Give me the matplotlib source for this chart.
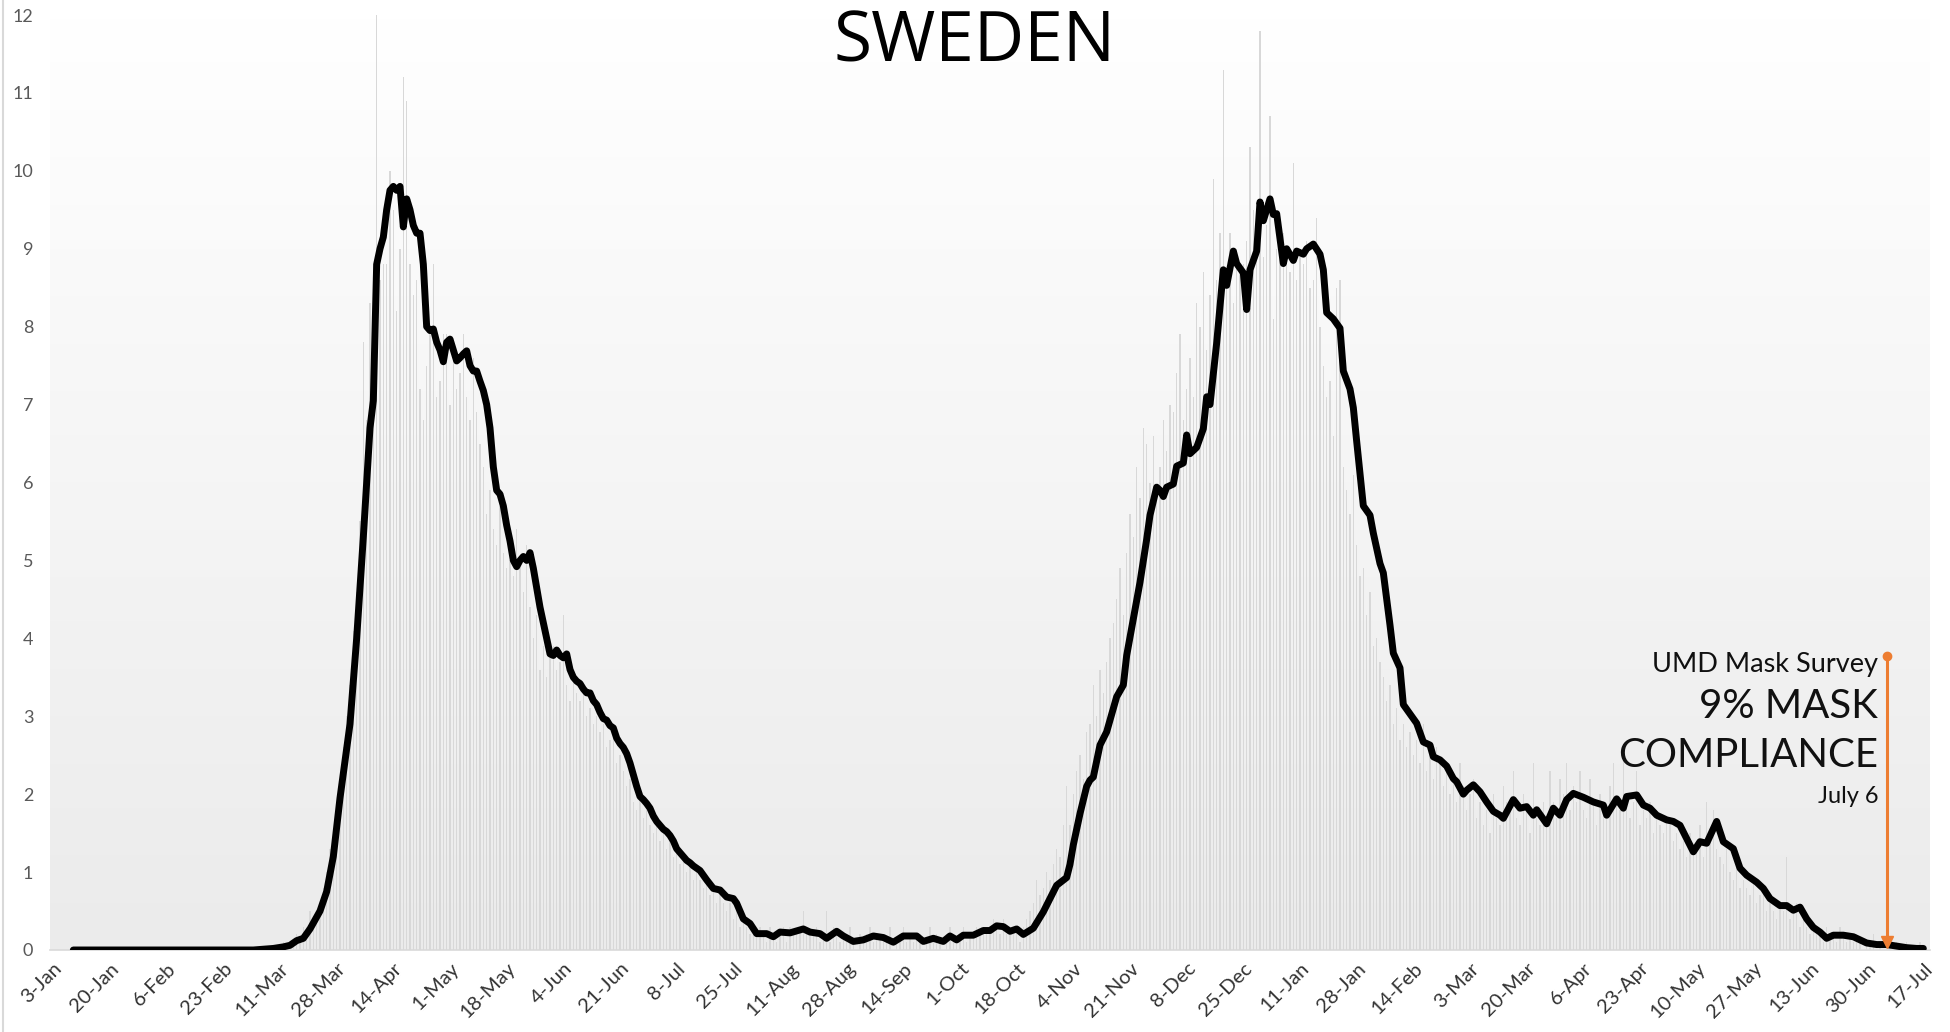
import numpy as np
import matplotlib.pyplot as plt
from matplotlib.lines import Line2D
from matplotlib.colors import LinearSegmentedColormap

# daily deaths per million, one value per day starting 3-Jan-2020
daily_deaths = [0.0] * 68 + [
    0.0, 0.1, 0.0, 0.1, 0.1, 0.2, 0.1, 0.3, 0.3, 0.5,
    0.3, 0.5, 0.6, 0.8, 1.0, 1.3, 1.4, 1.8, 2.2, 2.6,
    3.0, 3.4, 4.1, 4.6, 5.5, 7.8, 6.8, 8.3, 8.8, 12.0,
    8.6, 8.8, 8.8, 10.0, 9.5, 8.2, 9.0, 11.2, 10.9, 8.8,
    8.4, 8.6, 7.2, 6.8, 7.5, 7.9, 8.8, 7.1, 7.3, 7.9,
    7.9, 7.0, 7.6, 7.2, 7.4, 7.9, 7.1, 6.8, 7.6, 6.9,
    6.5, 6.2, 5.6, 5.9, 5.4, 5.2, 5.7, 5.1, 4.9, 5.0,
    4.8, 5.4, 5.0, 4.6, 5.2, 4.4, 4.0, 4.3, 3.6, 3.9,
    3.5, 3.8, 3.9, 3.6, 3.7, 4.3, 3.4, 3.2, 3.5, 3.3,
    3.2, 3.4, 3.0, 3.1, 2.9, 3.0, 2.8, 2.9, 2.6, 2.7,
    2.8, 2.4, 2.5, 2.3, 2.1, 2.2, 1.9, 1.8, 2.0, 1.7,
    1.8, 1.6, 1.5, 1.7, 1.4, 1.5, 1.3, 1.4, 1.2, 1.3,
    1.1, 1.2, 1.0, 1.1, 0.9, 1.0, 0.9, 0.8, 0.9, 0.7,
    0.8, 0.6, 0.7, 0.6, 0.5, 0.6, 0.4, 0.5, 0.3, 0.4,
    0.3, 0.2, 0.3, 0.2, 0.3, 0.2, 0.1, 0.3, 0.2, 0.1,
    0.2, 0.3, 0.1, 0.3, 0.2, 0.2, 0.3, 0.5, 0.2, 0.2,
    0.2, 0.3, 0.1, 0.2, 0.5, 0.1, 0.3, 0.2, 0.1, 0.2,
    0.1, 0.3, 0.1, 0.0, 0.2, 0.1, 0.2, 0.3, 0.1, 0.2,
    0.2, 0.1, 0.1, 0.3, 0.0, 0.1, 0.2, 0.3, 0.1, 0.2,
    0.1, 0.2, 0.2, 0.0, 0.1, 0.3, 0.1, 0.2, 0.1, 0.0,
    0.2, 0.3, 0.1, 0.1, 0.2, 0.3, 0.1, 0.2, 0.2, 0.3,
    0.2, 0.3, 0.3, 0.2, 0.4, 0.3, 0.2, 0.4, 0.2, 0.3,
    0.2, 0.3, 0.1, 0.3, 0.4, 0.5, 0.6, 0.9, 0.7, 0.8,
    1.0, 0.9, 1.1, 1.3, 1.2, 1.6, 2.1, 1.6, 2.0, 2.3,
    2.5, 2.2, 2.8, 2.9, 3.4, 3.0, 3.6, 3.3, 3.7, 4.0,
    4.2, 4.5, 4.9, 4.3, 5.1, 5.6, 5.3, 6.2, 5.8, 6.7,
    6.5, 6.0, 6.6, 5.9, 6.2, 6.8, 6.4, 7.0, 6.9, 7.4,
    7.9, 6.8, 7.2, 7.6, 7.1, 8.3, 8.0, 8.7, 7.7, 8.4,
    9.9, 8.6, 9.2, 11.3, 8.5, 9.2, 8.3, 9.0, 8.7, 8.8,
    9.1, 10.3, 9.5, 9.4, 11.8, 8.9, 9.3, 10.7, 8.1, 9.0,
    8.9, 9.2, 8.8, 8.7, 10.1, 8.6, 9.0, 8.8, 9.1, 8.5,
    8.6, 9.4, 8.0, 7.5, 7.1, 7.3, 6.6, 8.5, 8.6, 6.2,
    5.9, 5.6, 6.1, 5.2, 4.8, 4.9, 4.3, 4.6, 3.9, 4.0,
    3.7, 3.5, 3.2, 3.4, 2.9, 3.1, 2.7, 2.9, 2.6, 2.8,
    2.5, 2.7, 2.4, 2.9, 2.3, 2.5, 2.2, 2.6, 2.4, 2.1,
    2.3, 2.0, 2.2, 1.9, 2.4, 2.1, 1.8, 2.0, 2.2, 1.7,
    1.9, 1.6, 1.8, 1.5, 2.0, 1.7, 1.6, 2.1, 1.9, 1.8,
    2.3, 1.7, 1.6, 2.0, 1.8, 1.5, 2.4, 1.7, 1.6, 1.9,
    1.6, 2.3, 1.9, 1.7, 2.2, 2.0, 2.4, 1.8, 2.1, 1.9,
    2.3, 1.8, 1.7, 2.2, 1.9, 1.6, 2.0, 1.8, 1.7, 2.1,
    2.4, 1.9, 1.8, 2.5, 2.0, 1.7, 1.9, 2.3, 1.6, 1.8,
    1.7, 1.9, 1.5, 1.8, 1.6, 1.5, 1.7, 1.6, 1.4, 1.5,
    1.3, 1.4, 1.2, 1.5, 1.3, 1.4, 1.6, 1.2, 1.9, 1.4,
    1.8, 1.3, 1.2, 1.1, 1.3, 1.0, 0.9, 1.1, 0.8, 0.9,
    0.8, 0.7, 0.9, 0.6, 0.7, 0.8, 0.5, 0.6, 0.5, 0.4,
    0.6, 0.5, 1.2, 0.4, 0.5, 0.6, 0.3, 0.4, 0.3, 0.2,
    0.3, 0.2, 0.2, 0.1, 0.3, 0.2, 0.2, 0.1, 0.3, 0.2,
    0.1, 0.2, 0.1, 0.2, 0.1, 0.0, 0.1, 0.1, 0.2, 0.0,
    0.1, 0.0, 0.1, 0.1, 0.0, 0.1, 0.0, 0.0, 0.1, 0.0,
    0.0, 0.0, 0.1, 0.0,
]

# 7-day average (black line): day index from 3-Jan-2020, value
avg_day = [6, 40, 60, 66, 69, 71, 73, 75, 77, 80, 82, 84, 86, 89, 91, 93, 95, 96,
           97, 98, 99, 100, 101, 102, 103, 104, 105, 106, 107, 108, 109, 110, 111,
           112, 113, 114, 115, 116, 117, 118, 119, 120, 121, 122, 123, 124, 125,
           126, 127, 128, 129, 130, 131, 132, 133, 134, 135, 136, 137, 138, 139,
           140, 141, 142, 143, 144, 145, 146, 147, 148, 149, 150, 151, 152, 153,
           154, 155, 156, 157, 158, 159, 160, 161, 162, 163, 164, 165, 166, 167,
           168, 169, 170, 171, 172, 173, 174, 175, 176, 177, 178, 179, 180, 181,
           182, 183, 184, 185, 186, 187, 188, 189, 190, 191, 192, 193, 194, 196,
           198, 200, 202, 204, 205, 207, 209, 211, 214, 216, 218, 221, 225, 227,
           230, 232, 235, 237, 240, 243, 246, 249, 252, 255, 259, 261, 264, 267,
           269, 271, 273, 276, 279, 281, 283, 285, 287, 289, 291, 294, 297, 299,
           301, 304, 305, 306, 308, 310, 311, 312, 314, 316, 318, 319, 321, 322,
           324, 326, 328, 329, 331, 332, 333, 334, 336, 337, 339, 340, 341, 343,
           345, 346, 347, 349, 351, 352, 354, 355, 357, 358, 359, 361, 362, 363,
           365, 366, 367, 369, 370, 372, 373, 375, 376, 378, 380, 381, 382, 384,
           386, 387, 389, 390, 391, 393, 395, 396, 398, 399, 401, 402, 404, 405,
           407, 409, 411, 413, 414, 416, 418, 420, 421, 423, 424, 426, 428, 430,
           432, 434, 435, 438, 440, 442, 444, 445, 448, 450, 452, 454, 456, 459,
           462, 465, 466, 469, 471, 472, 475, 477, 479, 481, 484, 486, 488, 490,
           492, 494, 496, 499, 501, 504, 506, 508, 511, 513, 515, 518, 520, 522,
           524, 526, 528, 530, 532, 534, 537, 540, 542, 544, 547, 550, 553, 556,
           559, 561]
avg_val = [0.0, 0.0, 0.0, 0.02, 0.04, 0.06, 0.12, 0.15, 0.27, 0.5, 0.75, 1.2, 1.95,
           2.9, 4.0, 5.3, 6.7, 7.05,
           8.8, 9.0, 9.15, 9.5, 9.75, 9.8, 9.75, 9.8, 9.28, 9.64, 9.5, 9.3, 9.2, 9.2,
           8.8, 8.0, 7.95, 7.97, 7.8, 7.7, 7.55, 7.8, 7.84, 7.7, 7.56, 7.6, 7.65,
           7.69, 7.5, 7.43, 7.43, 7.3, 7.18, 7.0, 6.7, 6.2, 5.9, 5.85, 5.7, 5.45,
           5.25, 5.0, 4.92, 5.0, 5.05, 5.0, 5.1, 4.9, 4.65, 4.4, 4.2, 4.0, 3.8,
           3.78, 3.85, 3.78, 3.75, 3.8, 3.6, 3.5, 3.45, 3.42, 3.35, 3.3, 3.3, 3.2,
           3.15, 3.05, 2.97, 2.95, 2.88, 2.85, 2.72, 2.65, 2.6, 2.52, 2.4, 2.25,
           2.1, 1.97, 1.93, 1.88, 1.82, 1.72, 1.65, 1.6, 1.55, 1.52, 1.47, 1.4,
           1.3, 1.25, 1.2, 1.15, 1.12, 1.08, 1.05, 1.02, 0.9,
           0.79, 0.77, 0.68, 0.66, 0.6, 0.4, 0.34, 0.21, 0.21, 0.17, 0.23, 0.22,
           0.27, 0.23, 0.21, 0.15, 0.24, 0.18, 0.11, 0.13, 0.18, 0.16, 0.1, 0.18,
           0.18, 0.11, 0.15, 0.11, 0.18, 0.13, 0.19, 0.19, 0.25, 0.25, 0.31, 0.3,
           0.24, 0.27, 0.2, 0.28, 0.49, 0.66, 0.83, 0.93, 1.1, 1.35, 1.75, 2.1,
           2.18, 2.22, 2.63, 2.8, 3.1, 3.25, 3.4, 3.78, 4.25, 4.72, 5.27, 5.58,
           5.94, 5.9, 5.82, 5.94, 5.98, 6.21, 6.25, 6.61, 6.37, 6.45, 6.69, 7.1,
           7.0, 7.79, 8.73, 8.53, 8.97, 8.81, 8.69, 8.22, 8.73, 8.97, 9.6, 9.36,
           9.64, 9.44, 9.45, 8.81, 9.0, 8.85, 8.97, 8.93, 9.0, 9.06, 8.93, 8.73,
           8.18, 8.1, 7.98, 7.43, 7.2, 6.96, 6.53, 5.7, 5.58, 5.35, 4.96, 4.84,
           4.17, 3.81, 3.62, 3.15, 3.03, 2.91, 2.67, 2.63, 2.48, 2.44, 2.36, 2.2,
           2.16, 2.0, 2.05, 2.12, 2.03, 1.9, 1.78, 1.73, 1.69, 1.93, 1.82, 1.84,
           1.73, 1.8, 1.62, 1.82, 1.73, 1.93, 2.01, 1.96, 1.9, 1.86, 1.73, 1.94,
           1.82, 1.97, 1.99, 1.86, 1.82, 1.73, 1.67, 1.65, 1.6, 1.43, 1.26, 1.39,
           1.37, 1.65, 1.39, 1.3, 1.05, 0.96, 0.87, 0.79, 0.66, 0.57, 0.57, 0.51,
           0.55, 0.4, 0.29, 0.23, 0.15, 0.19, 0.19, 0.17, 0.13, 0.09, 0.07, 0.07,
           0.05, 0.03, 0.02, 0.02]

tick_labels = ["3-Jan", "20-Jan", "6-Feb", "23-Feb", "11-Mar", "28-Mar", "14-Apr",
               "1-May", "18-May", "4-Jun", "21-Jun", "8-Jul", "25-Jul", "11-Aug",
               "28-Aug", "14-Sep", "1-Oct", "18-Oct", "4-Nov", "21-Nov", "8-Dec",
               "25-Dec", "11-Jan", "28-Jan", "14-Feb", "3-Mar", "20-Mar", "6-Apr",
               "23-Apr", "10-May", "27-May", "13-Jun", "30-Jun", "17-Jul"]
tick_step = 17

survey_day = 550  # 6-Jul-2021
survey_lines = ["UMD Mask Survey", "9% MASK", "COMPLIANCE", "July 6"]

W, H = 1950, 1032
fig = plt.figure(figsize=(W / 100, H / 100), dpi=100)
fig.patch.set_facecolor("white")
ax = fig.add_axes([50 / W, 82 / H, 1880 / W, 935 / H])

# background gradient white -> light grey
bg = LinearSegmentedColormap.from_list("bg", ["#ffffff", "#ebebeb"])
ax.imshow(np.linspace(0, 1, 256).reshape(-1, 1), cmap=bg, extent=[-1, 563, 0, 12],
          aspect="auto", origin="upper", zorder=0)

days = np.arange(len(daily_deaths))
ax.bar(days, daily_deaths, width=0.38, color="#d8d8d8", zorder=1)
ax.plot(avg_day, avg_val, color="black", lw=5, solid_joinstyle="round",
        solid_capstyle="round", zorder=3)

# survey marker
orange = "#ed7d31"
ax.plot([survey_day, survey_day], [0.08, 3.77], color=orange, lw=2.2, zorder=4)
ax.plot(survey_day, 3.77, "o", ms=6, color=orange, zorder=4)
ax.plot(survey_day, 0.1, "v", ms=8, color=orange, zorder=4)

fonts = ["Lato", "DejaVu Sans"]
ax.text(547.5, 3.67, survey_lines[0], ha="right", va="center", fontsize=19.5, family=fonts, color="#111111")
ax.text(547.5, 3.13, survey_lines[1], ha="right", va="center", fontsize=29, family=fonts, color="#111111")
ax.text(547.5, 2.49, survey_lines[2], ha="right", va="center", fontsize=29, family=fonts, color="#111111")
ax.text(547.5, 1.97, survey_lines[3], ha="right", va="center", fontsize=17, family=fonts, color="#111111")

ax.set_xlim(-1, 563)
ax.set_ylim(0, 12)
ax.set_yticks(range(13))
ax.set_yticklabels([str(i) for i in range(13)], fontsize=13, color="#595959", family=fonts)
ax.set_xticks(np.arange(len(tick_labels)) * tick_step)
ax.set_xticklabels(tick_labels, rotation=45, ha="right", rotation_mode="anchor",
                   fontsize=14.5, color="#333333", family=fonts)
ax.tick_params(axis="both", length=0)
ax.tick_params(axis="y", pad=12)
ax.tick_params(axis="x", pad=7)
for s in ["top", "right", "left"]:
    ax.spines[s].set_visible(False)
ax.spines["bottom"].set_color("#d9d9d9")
ax.spines["bottom"].set_linewidth(1.2)
ax.spines["bottom"].set_zorder(2)

fig.text(0.5, 1 - 44 / H, "SWEDEN", ha="center", va="center", fontsize=50,
         family=["Open Sans", "DejaVu Sans"], color="black")
fig.add_artist(Line2D([2.5 / W, 2.5 / W], [0, 1], color="#d9d9d9", lw=1.5))

fig.savefig("out.png", dpi=100)
